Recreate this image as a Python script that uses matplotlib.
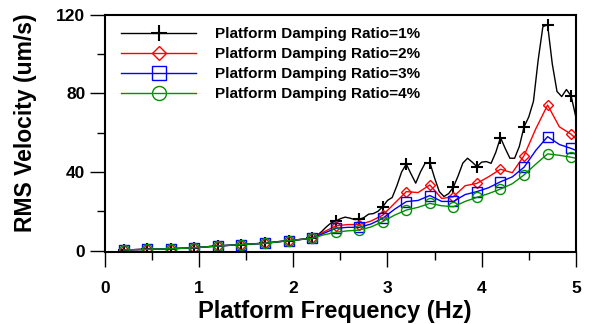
import numpy as np
import matplotlib.pyplot as plt
from matplotlib.ticker import MultipleLocator

plt.rcParams['font.family'] = ['Liberation Sans', 'DejaVu Sans']
plt.rcParams['font.weight'] = 'bold'

# fine frequency grid for the 1% case (markers every 0.25 Hz)
freq_fine = np.round(np.arange(0.2, 5.0001, 0.05), 3)
# coarser grid for the other cases (markers every 0.25 Hz)
freq_coarse = np.append(np.round(np.arange(0.2, 4.9501, 0.125), 3), 5.0)

rms_1 = [0.3, 0.35, 0.4, 0.5, 0.55, 0.6, 0.65, 0.7, 0.8, 0.85,
         0.9, 1.0, 1.1, 1.2, 1.3, 1.4, 1.6, 1.8, 2.0, 2.2,
         2.3, 2.5, 2.6, 2.8, 2.9, 3.0, 3.2, 3.3, 3.5, 3.6,
         3.7, 4.0, 4.3, 4.6, 4.8, 5.0, 5.2, 5.5, 5.8, 6.0,
         6.2, 7.6, 9.6, 12.0, 14.0, 15.0, 16.2, 17.0, 16.5, 15.8,
         15.8, 16.8, 18.5, 18.8, 20.0, 22.3, 25.5, 27.0, 33.0, 40.0,
         44.0, 39.0, 34.3, 40.0, 44.5, 44.8, 37.0, 30.0, 27.5, 29.0,
         32.3, 38.0, 44.5, 47.0, 45.0, 42.7, 45.0, 45.3, 44.4, 50.0,
         57.5, 52.0, 47.0, 47.0, 53.0, 63.0, 68.0, 76.0, 97.0, 114.0,
         115.0, 95.0, 81.0, 78.4, 82.0, 78.7, 68.0]

low = [0.3, 0.45, 0.6, 0.75, 0.9, 1.15, 1.4, 1.85, 2.3, 2.65,
       3.0, 3.35, 3.7, 4.35, 5.0, 5.6, 6.2]

rms_2 = low + [9.5, 12.5, 13.2, 13.2, 15.0, 18.0, 24.0, 30.0, 29.5,
               33.4, 26.5, 27.4, 33.0, 34.2, 37.6, 41.4, 39.6, 48.3, 62.0,
               74.1, 63.0, 59.2, 57.0]
rms_3 = low + [8.8, 11.3, 11.8, 11.8, 13.5, 16.4, 21.0, 24.9, 25.5,
               28.0, 25.0, 25.0, 28.5, 30.0, 32.0, 35.0, 37.5, 42.4, 51.0,
               58.0, 54.0, 52.0, 51.0]
rms_4 = low + [8.0, 9.3, 10.0, 10.4, 12.0, 14.7, 18.0, 20.6, 22.0,
               24.0, 22.8, 22.3, 25.0, 27.1, 29.0, 31.3, 34.0, 38.5, 44.0,
               49.2, 48.5, 47.5, 47.0]

labels = ['Platform Damping Ratio=1%', 'Platform Damping Ratio=2%',
          'Platform Damping Ratio=3%', 'Platform Damping Ratio=4%']

fig = plt.figure(figsize=(6.1, 3.24), dpi=100)
ax = fig.add_axes([0.172, 0.222, 0.772, 0.732])

every = slice(0, 39, 2)
ax.plot(freq_fine, rms_1, color='black', lw=1.0, marker='+', ms=8, mew=1.5,
        markevery=5, label=labels[0])
ax.plot(freq_coarse, rms_2, color='red', lw=1.0, marker='D', ms=4.8, mew=1.0,
        mfc='none', markevery=every, label=labels[1])
ax.plot(freq_coarse, rms_3, color='blue', lw=1.0, marker='s', ms=7, mew=1.0,
        mfc='none', markevery=every, label=labels[2])
ax.plot(freq_coarse, rms_4, color='#009000', lw=1.0, marker='o', ms=7.2, mew=1.0,
        mfc='none', markevery=every, label=labels[3])

ax.set_xlim(0, 5)
ax.set_ylim(-0.8, 120)
ax.xaxis.set_major_locator(MultipleLocator(1))
ax.xaxis.set_minor_locator(MultipleLocator(0.5))
ax.yaxis.set_major_locator(MultipleLocator(40))
ax.yaxis.set_minor_locator(MultipleLocator(20))
ax.tick_params(which='major', direction='out', length=11, width=1.0,
               labelsize=12.5)
ax.tick_params(axis='x', which='major', pad=10)
ax.tick_params(axis='y', which='major', pad=3)
ax.tick_params(which='minor', direction='out', length=5.5, width=1.0)
for s in ax.spines.values():
    s.set_linewidth(1.5)

ax.set_xlabel('Platform Frequency (Hz)', fontsize=17, fontweight='bold')
ax.set_ylabel('RMS Velocity (um/s)', fontsize=16.5, fontweight='bold')
ax.xaxis.set_label_coords(0.488, -0.2)
ax.yaxis.set_label_coords(-0.144, 0.544)

ax.legend(loc='upper left', bbox_to_anchor=(0.009, 1.0), frameon=False,
          handlelength=4.9, handletextpad=1.2, labelspacing=0.4,
          borderaxespad=0.4, markerscale=1.4,
          prop={'weight': 'bold', 'size': 11})

fig.savefig('out.png', dpi=100)
